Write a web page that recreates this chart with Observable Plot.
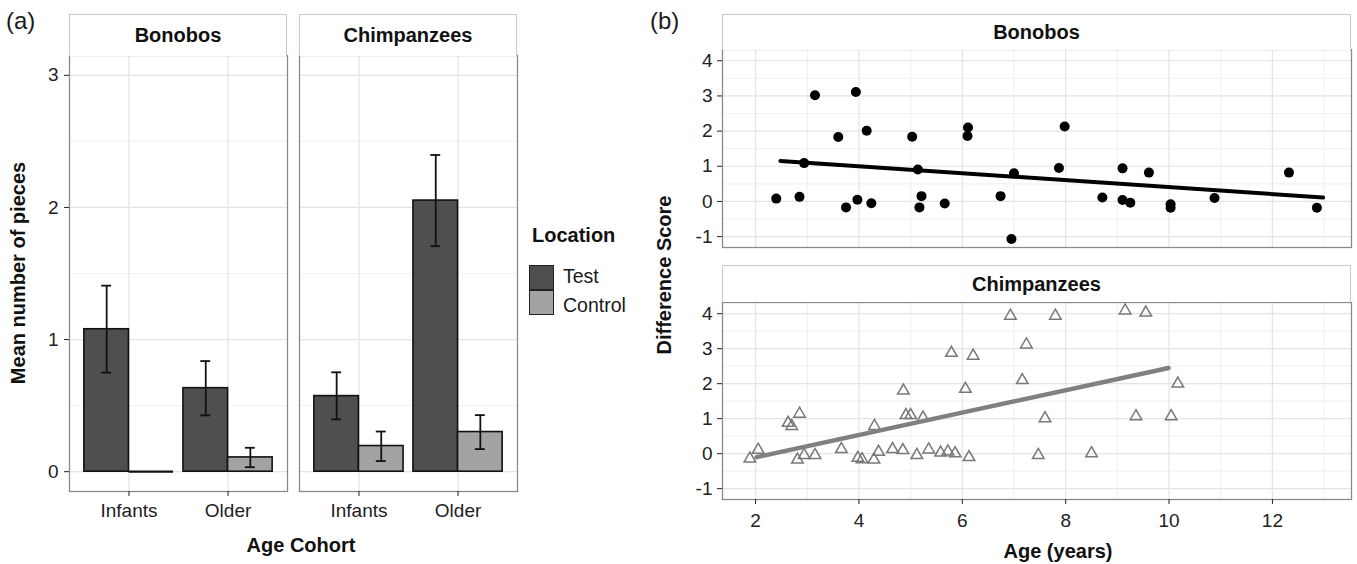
<!DOCTYPE html>
<html>
<head>
<meta charset="utf-8">
<script src="https://cdn.jsdelivr.net/npm/d3@7"></script>
<script src="https://cdn.jsdelivr.net/npm/@observablehq/plot@0.6"></script>
<style>
  body { margin: 0; background: #fff; }
  #root { position: relative; width: 1357px; height: 564px; overflow: hidden; background: #fff;
          font-family: "Liberation Sans", Arial, Helvetica, sans-serif; color: #1a1a1a; }
  .strip { position: absolute; box-sizing: border-box; border: 1.3px solid #c9c9c9; border-bottom: none; background: #fff;
           display: flex; align-items: center; justify-content: center; font-weight: bold; font-size: 20px; color: #111; }
  .txt { position: absolute; white-space: nowrap; line-height: 20px; }
  .bold { font-weight: bold; font-size: 20px; color: #111; }
  .swatch { position: absolute; box-sizing: border-box; width: 25px; height: 25px; border: 1.8px solid #222; }
</style>
</head>
<body>
<div id="root"></div>
<script>
// ---------------- data ----------------
const cohorts = ["Infants", "Older"];
const locations = ["Test", "Control"];
const speciesNames = ["Bonobos", "Chimpanzees"];

// panel (a): mean number of pieces with error bars
const barSpecies  = ["Bonobos", "Bonobos", "Bonobos", "Bonobos", "Chimpanzees", "Chimpanzees", "Chimpanzees", "Chimpanzees"];
const barCohort   = ["Infants", "Infants", "Older", "Older", "Infants", "Infants", "Older", "Older"];
const barLocation = ["Test", "Control", "Test", "Control", "Test", "Control", "Test", "Control"];
const barMean     = [1.078, 0.0, 0.632, 0.108, 0.572, 0.194, 2.052, 0.300];
const barLow      = [0.750, 0.0, 0.426, 0.034, 0.396, 0.080, 1.707, 0.171];
const barHigh     = [1.408, 0.0, 0.837, 0.181, 0.752, 0.304, 2.397, 0.428];

// panel (b): difference score by age
const bonoboAge   = [2.40, 2.85, 2.94, 3.15, 3.60, 3.75, 3.94, 3.97, 4.15, 4.24, 5.03, 5.14, 5.17, 5.21, 5.66, 6.10,
                     6.11, 6.74, 6.95, 7.00, 7.87, 7.98, 8.71, 9.10, 9.10, 9.25, 9.61, 10.03, 10.03, 10.88, 12.32, 12.86];
const bonoboScore = [0.08, 0.13, 1.09, 3.02, 1.83, -0.17, 3.11, 0.05, 2.01, -0.05, 1.84, 0.91, -0.17, 0.15, -0.06, 1.86,
                     2.10, 0.15, -1.07, 0.80, 0.95, 2.13, 0.11, 0.94, 0.04, -0.04, 0.82, -0.08, -0.18, 0.10, 0.82, -0.18];
const chimpAge    = [1.89, 2.05, 2.63, 2.70, 2.85, 2.81, 2.94, 3.15, 3.66, 3.98, 4.06, 4.29, 4.30, 4.38, 4.65, 4.85,
                     4.86, 4.91, 5.00, 5.12, 5.24, 5.35, 5.58, 5.72, 5.79, 5.86, 6.06, 6.13, 6.21, 6.93, 7.16, 7.24,
                     7.47, 7.60, 7.80, 8.50, 9.15, 9.36, 9.55, 10.04, 10.17];
const chimpScore  = [-0.10, 0.15, 0.92, 0.83, 1.18, -0.13, 0.00, 0.00, 0.17, -0.08, -0.12, -0.13, 0.83, 0.09, 0.17, 0.14,
                     1.84, 1.14, 1.14, 0.00, 1.07, 0.16, 0.07, 0.10, 2.92, 0.05, 1.89, -0.06, 2.84, 3.98, 2.14, 3.16,
                     0.00, 1.05, 3.98, 0.05, 4.13, 1.11, 4.07, 1.11, 2.04];
// fitted regression lines (end points)
const bonoboFitAge = [2.48, 12.98];
const bonoboFitScore = [1.15, 0.11];
const chimpFitAge = [2.02, 9.99];
const chimpFitScore = [-0.10, 2.45];

const barTicksY = [0, 1, 2, 3];
const barMinorY = [0.5, 1.5, 2.5];
const ageTicks = [2, 4, 6, 8, 10, 12];
const ageMinor = [3, 5, 7, 9, 11, 13];
const scoreTicks = [-1, 0, 1, 2, 3, 4];
const scoreMinor = [-0.5, 0.5, 1.5, 2.5, 3.5];

// ---------------- styling ----------------
const FONT = '"Liberation Sans", Arial, Helvetica, sans-serif';
const testColor = "#4f4f4f", controlColor = "#a3a3a3";
const gridMajor = "#e4e4e4", gridMinor = "#f2f2f2", frameColor = "#8a8a8a";
const plain = d => String(d);
const root = document.getElementById("root");

function mount(el, left, top) {
  el.style.position = "absolute";
  el.style.left = left + "px";
  el.style.top = top + "px";
  root.appendChild(el);
}
function addText(text, left, top, cls, extra) {
  const d = document.createElement("div");
  d.className = "txt " + (cls || "");
  d.textContent = text;
  d.style.left = left + "px";
  d.style.top = top + "px";
  if (extra) Object.assign(d.style, extra);
  root.appendChild(d);
  return d;
}
function addStrip(text, left, top, width, height) {
  const d = document.createElement("div");
  d.className = "strip";
  d.textContent = text;
  Object.assign(d.style, {left: left + "px", top: top + "px", width: width + "px", height: height + "px"});
  root.appendChild(d);
}
const plotStyle = {fontFamily: FONT, fontSize: "19px", color: "#222", background: "none", overflow: "visible"};

// ---------------- panel (a) ----------------
function barPanel(species, showY, left, marginLeft) {
  const rows = barSpecies.map((s, i) => ({s, cohort: barCohort[i], loc: barLocation[i], mean: barMean[i], lo: barLow[i], hi: barHigh[i]}))
    .filter(d => d.s === species);
  const pos = d => cohorts.indexOf(d.cohort) + 1;
  const ctr = d => pos(d) + (d.loc === "Test" ? -0.225 : 0.225);
  const withErr = rows.filter(d => d.hi > d.lo);
  const marks = [
    Plot.gridY(barMinorY, {stroke: gridMinor, strokeOpacity: 1, strokeWidth: 1.2}),
    Plot.gridY(barTicksY, {stroke: gridMajor, strokeOpacity: 1, strokeWidth: 1.2}),
    Plot.gridX([1, 2], {stroke: gridMajor, strokeOpacity: 1, strokeWidth: 1.2}),
    ...locations.map(loc => Plot.rect(rows.filter(d => d.loc === loc && d.mean > 0), {
      x1: d => ctr(d) - 0.225, x2: d => ctr(d) + 0.225, y1: 0, y2: "mean",
      fill: loc === "Test" ? testColor : controlColor, stroke: "#111", strokeWidth: 1.6})),
    Plot.ruleY(rows.filter(d => d.mean === 0), {y: 0, x1: d => ctr(d) - 0.225, x2: d => ctr(d) + 0.225, stroke: "#111", strokeWidth: 2.2}),
    Plot.ruleX(withErr, {x: ctr, y1: "lo", y2: "hi", stroke: "#111", strokeWidth: 1.8}),
    Plot.ruleY(withErr, {y: "lo", x1: d => ctr(d) - 0.05, x2: d => ctr(d) + 0.05, stroke: "#111", strokeWidth: 1.8}),
    Plot.ruleY(withErr, {y: "hi", x1: d => ctr(d) - 0.05, x2: d => ctr(d) + 0.05, stroke: "#111", strokeWidth: 1.8}),
    Plot.frame({stroke: frameColor, strokeWidth: 1.3}),
    Plot.axisX({ticks: [1, 2], tickFormat: d => cohorts[d - 1], tickSize: 5, tickPadding: 7, label: null, fontSize: 19, color: "#222"})
  ];
  if (showY) marks.push(Plot.axisY({ticks: barTicksY, tickFormat: plain, tickSize: 5, tickPadding: 6, label: null, fontSize: 19, color: "#222"}));
  const svg = Plot.plot({
    width: marginLeft + 218 + 3, height: 477,
    marginLeft, marginRight: 3, marginTop: 1, marginBottom: 40,
    x: {domain: [0.4, 2.6]},
    y: showY ? {domain: [-0.15, 3.15]} : {domain: [-0.15, 3.15], axis: null},
    style: plotStyle,
    marks
  });
  mount(svg, left, 54);
}
barPanel("Bonobos", true, 0, 69);
barPanel("Chimpanzees", false, 296, 3);
addStrip(speciesNames[0], 69, 14, 218, 42);
addStrip(speciesNames[1], 299, 14, 218, 42);

// ---------------- panel (b) ----------------
function scatterPanel(species, top, innerH, marginTop, marginBottom, showX) {
  const isB = species === "Bonobos";
  const ages = isB ? bonoboAge : chimpAge, scores = isB ? bonoboScore : chimpScore;
  const pts = ages.map((a, i) => ({age: a, score: scores[i]}));
  const fa = isB ? bonoboFitAge : chimpFitAge, fs = isB ? bonoboFitScore : chimpFitScore;
  const fit = fa.map((a, i) => ({age: a, score: fs[i]}));
  const marks = [
    Plot.gridY(scoreMinor, {stroke: gridMinor, strokeOpacity: 1, strokeWidth: 1.2}),
    Plot.gridX(ageMinor, {stroke: gridMinor, strokeOpacity: 1, strokeWidth: 1.2}),
    Plot.gridY(scoreTicks, {stroke: gridMajor, strokeOpacity: 1, strokeWidth: 1.2}),
    Plot.gridX(ageTicks, {stroke: gridMajor, strokeOpacity: 1, strokeWidth: 1.2}),
    isB ? Plot.dot(pts, {x: "age", y: "score", r: 5, fill: "#000", stroke: "none"})
        : Plot.dot(pts, {x: "age", y: "score", r: 4.3, symbol: "triangle", fill: "none", stroke: "#787878", strokeWidth: 1.5, dy: 1.5}),
    Plot.line(fit, {x: "age", y: "score", stroke: isB ? "#000" : "#808080", strokeWidth: isB ? 4 : 4.5}),
    Plot.frame({stroke: frameColor, strokeWidth: 1.3}),
    Plot.axisY({ticks: scoreTicks, tickFormat: plain, tickSize: 5, tickPadding: 5, label: null, fontSize: 19, color: "#222"})
  ];
  if (showX) marks.push(Plot.axisX({ticks: ageTicks, tickFormat: plain, tickSize: 5, tickPadding: 9, label: null, fontSize: 19, color: "#222"}));
  const svg = Plot.plot({
    width: 50 + 629 + 4, height: marginTop + innerH + marginBottom,
    marginLeft: 50, marginRight: 4, marginTop, marginBottom,
    x: showX ? {domain: [1.36, 13.53]} : {domain: [1.36, 13.53], axis: null},
    y: {domain: [-1.31, 4.32]},
    style: plotStyle,
    marks
  });
  mount(svg, 672, top);
}
scatterPanel("Bonobos", 48, 198, 1, 3, false);
scatterPanel("Chimpanzees", 300, 197, 2, 60, true);
addStrip(speciesNames[0], 722, 14, 629, 36);
addStrip(speciesNames[1], 722, 265, 629, 37);

// ---------------- titles, labels, legend ----------------
addText("(a)", 6, 9, "", {fontSize: "24px", lineHeight: "24px"});
addText("(b)", 650, 9, "", {fontSize: "24px", lineHeight: "24px"});
addText("Age Cohort", 301, 535, "bold", {transform: "translateX(-50%)"});
addText("Age (years)", 1058, 541, "bold", {transform: "translateX(-50%)"});
addText("Mean number of pieces", 18, 273, "bold", {transform: "translate(-50%, -50%) rotate(-90deg)"});
addText("Difference Score", 664, 275, "bold", {transform: "translate(-50%, -50%) rotate(-90deg)"});

addText("Location", 532, 225, "bold");
const sw1 = document.createElement("div"); sw1.className = "swatch";
Object.assign(sw1.style, {left: "529px", top: "265px", background: testColor}); root.appendChild(sw1);
const sw2 = document.createElement("div"); sw2.className = "swatch";
Object.assign(sw2.style, {left: "529px", top: "290px", background: controlColor}); root.appendChild(sw2);
addText(locations[0], 563, 266, "", {fontSize: "19.5px"});
addText(locations[1], 563, 295, "", {fontSize: "19.5px"});
</script>
</body>
</html>
